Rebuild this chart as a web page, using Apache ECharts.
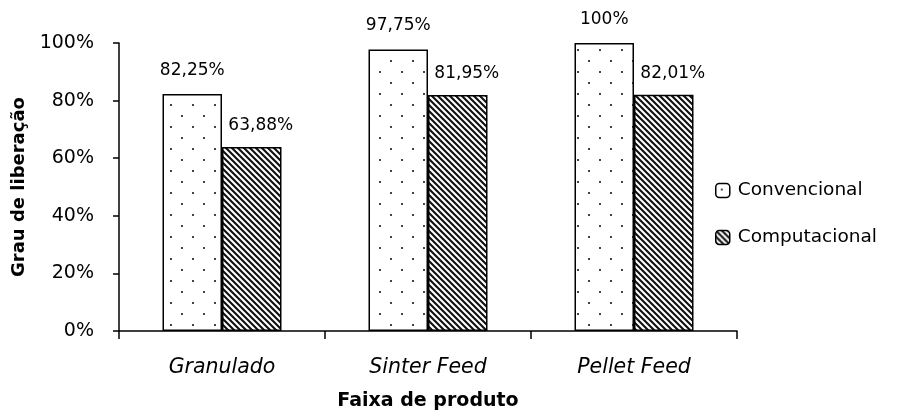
<!DOCTYPE html>
<html><head><meta charset="utf-8">
<script src="https://cdn.jsdelivr.net/npm/echarts@6/dist/echarts.min.js"></script>
<style>html,body{margin:0;padding:0;background:#fff}#c{width:903px;height:412px}</style>
</head><body><div id="c"></div>
<script>
const categories = ['Granulado', 'Sinter Feed', 'Pellet Feed'];
const convencional = [0.8225, 0.9775, 1.00];
const computacional = [0.6388, 0.8195, 0.8201];
const convLabels = ['82,25%', '97,75%', '100%'];
const compLabels = ['63,88%', '81,95%', '82,01%'];
const yTicks = ['0%', '20%', '40%', '60%', '80%', '100%'];

function dotPattern() {
  const c = document.createElement('canvas'); c.width = 22; c.height = 22;
  const g = c.getContext('2d');
  g.fillStyle = '#fff'; g.fillRect(0, 0, 22, 22);
  g.fillStyle = '#444';
  g.fillRect(5, 5, 2, 2); g.fillRect(16, 16, 2, 2);
  return c;
}
function hatchPattern() {
  const s = 6;
  const c = document.createElement('canvas'); c.width = s; c.height = s;
  const g = c.getContext('2d');
  g.fillStyle = '#fff'; g.fillRect(0, 0, s, s);
  g.strokeStyle = '#111'; g.lineWidth = 2.1;
  g.beginPath();
  g.moveTo(-1, -1); g.lineTo(s + 1, s + 1);
  g.moveTo(-1, s - 1); g.lineTo(1, s + 1);
  g.moveTo(s - 1, -1); g.lineTo(s + 1, 1);
  g.stroke();
  return c;
}
const dots = { image: dotPattern(), repeat: 'repeat' };
const hatch = { image: hatchPattern(), repeat: 'repeat' };
const FONT = 'DejaVu Sans';

const chart = echarts.init(document.getElementById('c'));
chart.setOption({
  animation: false,
  textStyle: { fontFamily: FONT },
  grid: { left: 119, right: 166, top: 43, bottom: 81, containLabel: false, outerBoundsMode: 'none' },
  legend: {
    orient: 'vertical', left: 710, top: 176, itemWidth: 14, itemHeight: 14, itemGap: 28,
    textStyle: { fontFamily: FONT, fontSize: 18.5, color: '#000', padding: [0, 0, 0, 3] },
    data: [
      { name: 'Convencional', itemStyle: { color: dots, borderColor: '#000', borderWidth: 1.5 } },
      { name: 'Computacional', itemStyle: { color: hatch, borderColor: '#000', borderWidth: 1.5 } }
    ]
  },
  xAxis: {
    type: 'category', data: categories,
    name: 'Faixa de produto', nameLocation: 'middle', nameGap: 61,
    nameTextStyle: { fontFamily: FONT, fontWeight: 'bold', fontSize: 19, color: '#000' },
    axisLine: { lineStyle: { color: '#000', width: 1.5 } },
    axisTick: { show: true, length: 8, lineStyle: { color: '#000', width: 1.5 } },
    axisLabel: { fontFamily: FONT, fontStyle: 'italic', fontSize: 20.5, color: '#000', margin: 27 }
  },
  yAxis: {
    type: 'value', min: 0, max: 1, interval: 0.2,
    name: 'Grau de liberação', nameLocation: 'middle', nameGap: 88, nameRotate: 90,
    nameTextStyle: { fontFamily: FONT, fontWeight: 'bold', fontSize: 18, color: '#000' },
    axisLine: { show: true, lineStyle: { color: '#000', width: 1.5 } },
    axisTick: { show: true, inside: false, length: 6, lineStyle: { color: '#000', width: 1.5 } },
    splitLine: { show: false },
    axisLabel: {
      fontFamily: FONT, fontSize: 19, color: '#000', margin: 25,
      formatter: v => yTicks[Math.round(v * 5)]
    }
  },
  series: [
    {
      name: 'Convencional', type: 'bar', data: convencional, barWidth: 59.5, barGap: '0%',
      itemStyle: { color: dots, borderColor: '#000', borderWidth: 1.5 },
      label: {
        show: true, position: 'top', distance: 15, fontFamily: FONT, fontSize: 17, color: '#000',
        formatter: p => convLabels[p.dataIndex]
      }
    },
    {
      name: 'Computacional', type: 'bar', data: computacional, barWidth: 59.5,
      itemStyle: { color: hatch, borderColor: '#000', borderWidth: 1.5 },
      label: {
        show: true, position: 'top', distance: 13, offset: [9, 0], fontFamily: FONT, fontSize: 17, color: '#000',
        formatter: p => compLabels[p.dataIndex]
      }
    }
  ]
});
</script></body></html>
